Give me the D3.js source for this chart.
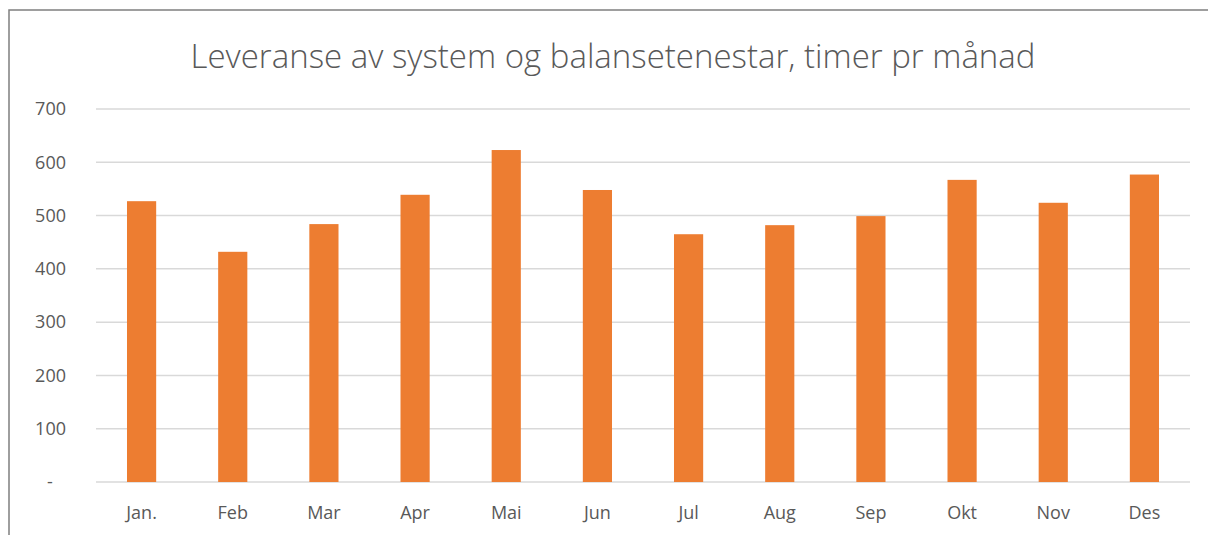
<!DOCTYPE html>
<html>
<head>
<meta charset="utf-8">
<script src="https://cdn.jsdelivr.net/npm/d3@7"></script>
<style>
  body { margin: 0; background: #fff; }
  svg text { font-family: "Open Sans", "Noto Sans", sans-serif; fill: #595959; }
</style>
</head>
<body>
<div id="chart"></div>
<script>
// data
const months = ["Jan.", "Feb", "Mar", "Apr", "Mai", "Jun", "Jul", "Aug", "Sep", "Okt", "Nov", "Des"];
const hours = [527, 432, 484, 539, 623, 548, 465, 482, 499, 567, 524, 577];
const yTicks = [0, 100, 200, 300, 400, 500, 600, 700];
const title = "Leveranse av system og balansetenestar, timer pr månad";

const W = 1208, H = 535;
const margin = {left: 96, right: 18, top: 109, bottom: 53};

const svg = d3.select("#chart").append("svg")
    .attr("width", W)
    .attr("height", H);

// chart frame
svg.append("rect")
    .attr("x", 9).attr("y", 10)
    .attr("width", W + 20).attr("height", H + 20)
    .attr("fill", "none")
    .attr("stroke", "#7f7f7f")
    .attr("stroke-width", 1.5);

svg.append("text")
    .attr("x", 613).attr("y", 68)
    .attr("text-anchor", "middle")
    .style("font-size", "33px")
    .style("font-weight", 300)
    .text(title);

const x = d3.scaleBand()
    .domain(months)
    .range([margin.left, W - margin.right])
    .paddingInner(0.68)
    .paddingOuter(0.34);

const y = d3.scaleLinear()
    .domain([0, 700])
    .range([H - margin.bottom, margin.top]);

// gridlines
svg.append("g")
    .selectAll("line")
    .data(yTicks)
    .enter()
    .append("line")
        .attr("x1", margin.left)
        .attr("x2", W - margin.right)
        .attr("y1", d => y(d))
        .attr("y2", d => y(d))
        .attr("stroke", "#d9d9d9")
        .attr("stroke-width", 1.5);

// y axis labels
const yAxis = svg.append("g")
    .attr("transform", `translate(${margin.left - 30},0)`)
    .call(d3.axisLeft(y).tickValues(yTicks).tickSize(0)
        .tickFormat(d => d === 0 ? "-" : d));
yAxis.select(".domain").remove();
yAxis.selectAll("text")
    .attr("x", 0)
    .style("font-size", "18px")
    .style("fill", "#595959")
    .attr("text-anchor", d => d === 0 ? "middle" : "end")
    .attr("dx", d => d === 0 ? "-16px" : null);

// x axis labels
const xAxis = svg.append("g")
    .attr("transform", `translate(0,${H - margin.bottom})`)
    .call(d3.axisBottom(x).tickSize(0).tickPadding(24));
xAxis.select(".domain").remove();
xAxis.selectAll("text")
    .style("font-size", "18px")
    .style("fill", "#595959");

svg.append("g")
    .selectAll("rect")
    .data(hours)
    .enter()
    .append("rect")
        .attr("x", (d, i) => x(months[i]))
        .attr("y", d => y(d))
        .attr("width", x.bandwidth())
        .attr("height", d => y(0) - y(d))
        .attr("fill", "#ED7D31");
</script>
</body>
</html>
